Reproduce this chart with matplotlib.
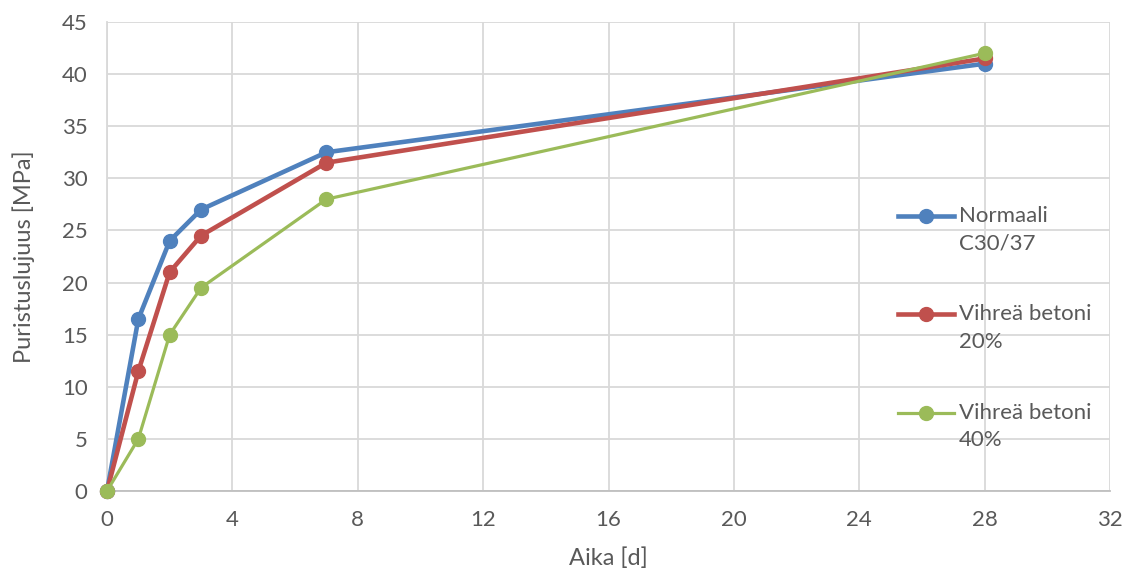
import matplotlib
matplotlib.use("Agg")
import matplotlib.pyplot as plt
import numpy as np

days = [0, 1, 2, 3, 7, 28]
normaali = [0, 16.5, 24, 27, 32.5, 41]
vihrea20 = [0, 11.5, 21, 24.5, 31.5, 41.5]
vihrea40 = [0, 5, 15, 19.5, 28, 42]
labels = ["Normaali\nC30/37", "Vihreä betoni\n20%", "Vihreä betoni\n40%"]
colors = ["#4F81BD", "#C0504D", "#9BBB59"]
xticks = [0, 4, 8, 12, 16, 20, 24, 28, 32]
yticks = [0, 5, 10, 15, 20, 25, 30, 35, 40, 45]

plt.rcParams['font.family'] = ['Lato', 'DejaVu Sans']
txt = "#595959"

fig = plt.figure(figsize=(11.37, 5.72), dpi=100)
ax = fig.add_axes([107/1137, 1-491/572, (1110-107)/1137, (491-22)/572])

widths = [3.3, 3.3, 2.3]
for ys, lab, c, w in zip([normaali, vihrea20, vihrea40], labels, colors, widths):
    ax.plot(days, ys, color=c, lw=w, marker='o', ms=10, label=lab, clip_on=False, zorder=3)

ax.set_xlim(0, 32)
ax.set_ylim(0, 45)
ax.set_xticks(xticks)
ax.set_yticks(yticks)
ax.grid(True, color="#d9d9d9", lw=1.3)
ax.set_axisbelow(True)
for s in ['top', 'right']:
    ax.spines[s].set_visible(False)
ax.spines['left'].set_color("#d9d9d9")
ax.spines['left'].set_linewidth(1.3)
ax.spines['bottom'].set_color("#bfbfbf")
ax.spines['bottom'].set_linewidth(1.3)
ax.tick_params(axis='both', length=0, labelsize=16, labelcolor=txt)
ax.tick_params(axis='y', pad=14)
ax.tick_params(axis='x', pad=14)
ax.set_xlabel("Aika [d]", fontsize=17, color=txt, labelpad=12)
ax.set_ylabel("Puristuslujuus [MPa]", fontsize=17, color=txt, labelpad=19)

leg = ax.legend(loc='upper left', bbox_to_anchor=((898-107)/1003, (491-206)/469), frameon=False,
                fontsize=16, labelcolor=txt, handlelength=2.5, handletextpad=0.25,
                labelspacing=2.3, borderpad=0, borderaxespad=0)
for t in leg.get_texts():
    t.set_linespacing(1.45)
fig.canvas.draw()
for ln in leg.get_lines():
    yd = np.asarray(ln.get_ydata(), dtype=float)
    ln.set_ydata(yd + 10)

fig.savefig("out.png", dpi=100)
